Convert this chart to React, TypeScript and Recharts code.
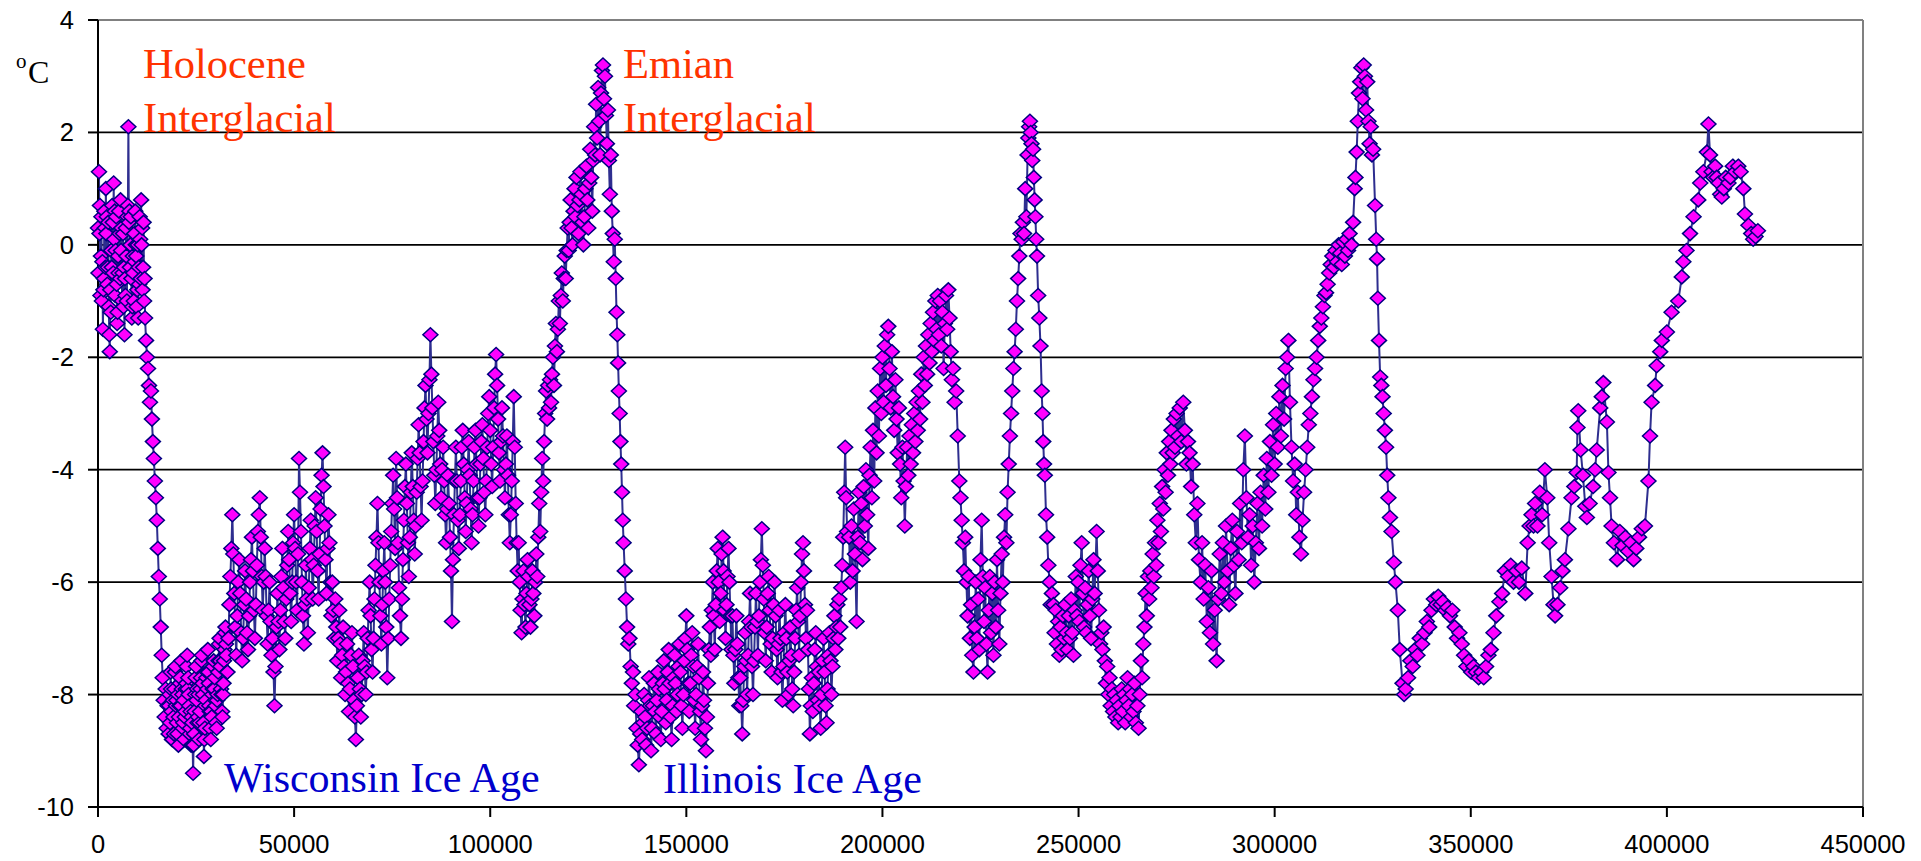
import React from "react";
import { LineChart, Line, XAxis, YAxis, CartesianGrid, ReferenceLine } from "recharts";

// Ages in thousands of years before present, temperature anomaly in °C
const holoceneSeg: [number, number][] = [
  [0,0.3],[0.125,-0.5],[0.25,1.3],[0.375,0.2],[0.5,0.7],[0.625,-0.9],[0.75,-0.2],[0.875,0.5],
  [1,-1.0],[1.125,-0.3],[1.25,-1.5],[1.375,-0.8],[1.5,-0.6],[1.625,0.6],[1.75,0.3],[1.875,-0.4],
  [2,1.0],[2.125,0.2],[2.25,0.5],[2.375,-0.7],[2.5,-0.4],[2.625,0.4],[2.75,-1.1],[2.875,-1.6],
  [3,-1.9],[3.125,-0.8],[3.25,-1.2],[3.375,-0.1],[3.5,-0.4],[3.625,0.7],[3.75,0.4],[3.875,-0.5],
  [4,1.1],[4.125,0.1],[4.25,0.6],[4.375,-0.9],[4.5,-0.1],[4.625,0.5],[4.75,-0.7],[4.875,-1.4],
  [5,-1.2],[5.125,-0.2],[5.25,-0.5],[5.375,0.6],[5.5,0.2],[5.625,-0.6],[5.75,0.8],[5.875,-0.1],
  [6,0.3],[6.125,-1.0],[6.25,-0.5],[6.375,0.2],[6.5,-1.1],[6.625,-0.4],[6.75,-1.6],[6.875,-0.6],
  [7,-0.9],[7.125,0.3],[7.25,-0.2],[7.375,-1.0],[7.5,0.5],[7.625,0.7],[7.75,2.1],[7.875,0.4],
  [8,0.6],[8.125,-0.4],[8.25,0.0],[8.375,0.5],[8.5,-0.6],[8.625,-1.3],[8.75,-1.1],[8.875,-0.2],
  [9,-0.5],[9.125,-1.0],[9.25,0.2],[9.375,-0.3],[9.5,0.6],[9.625,0.0],[9.75,-0.2],[9.875,-1.1],
  [10,-0.8],[10.125,0.0],[10.25,-1.3],[10.375,-0.4],[10.5,-0.7],[10.625,0.5],[10.75,0.1],[10.875,-0.6],
  [11,0.8],[11.125,0.0],[11.25,0.3],[11.375,-0.8],[11.5,-0.4],[11.625,0.4],[11.75,-1.0],[11.875,-0.6],
];

const deglaciationSeg: [number, number][] = [
  [12,-1.3],[12.25,-1.7],[12.5,-2.0],[12.75,-2.2],
  [13,-2.5],[13.25,-2.8],[13.5,-2.6],[13.75,-3.1],
  [14,-3.5],[14.25,-3.8],[14.5,-4.2],[14.75,-4.5],
  [15,-4.9],[15.25,-5.4],[15.5,-5.9],[15.75,-6.3],
  [16,-6.8],[16.25,-7.3],[16.5,-7.7],[16.75,-8.1],
  [17,-8.4],[17.25,-7.9],[17.5,-8.6],[17.75,-8.2],
];

const lgmSeg: [number, number][] = [
  [18,-8.7],[18.125,-8.2],[18.25,-8.0],[18.375,-8.5],[18.5,-7.6],[18.625,-7.9],[18.75,-8.3],[18.875,-8.8],
  [19,-8.8],[19.125,-8.1],[19.25,-8.4],[19.375,-8.7],[19.5,-7.9],[19.625,-7.6],[19.75,-7.5],[19.875,-8.2],
  [20,-8.1],[20.125,-8.5],[20.25,-8.7],[20.375,-8.0],[20.5,-8.9],[20.625,-8.4],[20.75,-8.2],[20.875,-7.8],
  [21,-7.7],[21.125,-8.2],[21.25,-7.4],[21.375,-7.9],[21.5,-8.0],[21.625,-8.6],[21.75,-8.5],[21.875,-8.1],
  [22,-8.8],[22.125,-8.4],[22.25,-8.3],[22.375,-7.9],[22.5,-7.8],[22.625,-7.5],[22.75,-7.3],[22.875,-7.9],
  [23,-7.7],[23.125,-8.0],[23.25,-8.2],[23.375,-8.7],[23.5,-8.6],[23.625,-8.3],[23.75,-8.9],[23.875,-8.4],
  [24,-8.5],[24.125,-8.9],[24.25,-9.4],[24.375,-8.9],[24.5,-8.7],[24.625,-8.3],[24.75,-8.0],[24.875,-7.7],
  [25,-7.5],[25.125,-8.1],[25.25,-7.9],[25.375,-8.5],[25.5,-8.4],[25.625,-8.0],[25.75,-8.8],[25.875,-8.5],
  [26,-8.3],[26.125,-7.9],[26.25,-7.7],[26.375,-7.4],[26.5,-7.3],[26.625,-7.8],[26.75,-8.0],[26.875,-8.5],
  [27,-9.1],[27.125,-8.8],[27.25,-8.6],[27.375,-8.2],[27.5,-8.1],[27.625,-7.7],[27.75,-7.6],[27.875,-7.9],
  [28,-7.2],[28.125,-7.6],[28.25,-7.8],[28.375,-8.2],[28.5,-8.3],[28.625,-8.6],[28.75,-8.8],[28.875,-8.3],
  [29,-8.4],[29.125,-8.0],[29.25,-7.9],[29.375,-7.5],[29.5,-7.4],[29.625,-7.9],[29.75,-7.7],[29.875,-8.1],
  [30,-8.2],[30.125,-8.5],[30.25,-8.6],[30.375,-8.1],[30.5,-8.0],[30.625,-7.6],[30.75,-7.4],[30.875,-7.1],
  [31,-7.0],[31.125,-7.4],[31.25,-7.5],[31.375,-7.9],[31.5,-8.0],[31.625,-8.3],[31.75,-8.4],[31.875,-8.0],
  [32,-7.8],[32.125,-7.4],[32.25,-7.2],[32.375,-6.9],[32.5,-6.8],[32.625,-7.1],[32.75,-7.3],[32.875,-7.6],
];

const stage3Seg: [number, number][] = [
  [33,-7.6],[33.25,-7.0],[33.5,-6.4],[33.75,-5.9],
  [34,-5.4],[34.25,-4.8],[34.5,-5.5],[34.75,-6.2],
  [35,-6.8],[35.25,-7.3],[35.5,-6.6],[35.75,-6.0],
  [36,-5.6],[36.25,-6.2],[36.5,-6.9],[36.75,-7.4],
  [37,-7.0],[37.25,-6.4],[37.5,-5.8],[37.75,-6.3],
  [38,-6.9],[38.25,-7.2],[38.5,-6.6],[38.75,-6.0],
  [39,-5.6],[39.25,-5.2],[39.5,-5.8],[39.75,-6.5],
  [40,-7.0],[40.25,-6.4],[40.5,-5.7],[40.75,-5.1],
  [41,-4.8],[41.25,-4.5],[41.5,-5.2],[41.75,-5.9],
  [42,-6.5],[42.25,-6.0],[42.5,-5.4],[42.75,-5.9],
  [43,-6.6],[43.25,-7.1],[43.5,-6.5],[43.75,-6.0],
  [44,-6.7],[44.25,-7.3],[44.5,-7.0],[44.75,-7.6],
  [45,-8.2],[45.25,-7.5],[45.5,-6.8],[45.75,-6.2],
  [46,-6.7],[46.25,-7.2],[46.5,-6.5],[46.75,-5.9],
  [47,-5.4],[47.25,-6.1],[47.5,-6.7],[47.75,-7.0],
  [48,-6.3],[48.25,-5.7],[48.5,-5.1],[48.75,-5.6],
  [49,-6.2],[49.25,-6.7],[49.5,-6.0],[49.75,-5.3],
  [50,-4.8],[50.25,-5.4],[50.5,-6.0],[50.75,-6.5],
  [51,-5.5],[51.25,-3.8],[51.5,-4.4],[51.75,-5.1],
  [52,-6.0],[52.25,-6.6],[52.5,-7.1],[52.75,-6.4],
  [53,-5.7],[53.25,-6.3],[53.5,-6.9],[53.75,-6.1],
  [54,-5.4],[54.25,-4.9],[54.5,-5.6],[54.75,-6.3],
  [55,-5.7],[55.25,-5.0],[55.5,-4.5],[55.75,-5.1],
  [56,-5.8],[56.25,-6.3],[56.5,-5.5],[56.75,-4.7],
  [57,-4.1],[57.25,-3.7],[57.5,-4.3],[57.75,-5.0],
  [58,-5.6],[58.25,-6.2],[58.5,-5.4],[58.75,-4.8],
  [59,-5.3],[59.25,-6.0],[59.5,-6.6],[59.75,-6.0],
];

const stage4Seg: [number, number][] = [
  [60,-6.5],[60.25,-7.0],[60.5,-6.3],[60.75,-6.8],
  [61,-7.4],[61.25,-7.0],[61.5,-6.5],[61.75,-7.1],
  [62,-7.7],[62.25,-7.3],[62.5,-6.8],[62.75,-7.5],
  [63,-8.0],[63.25,-7.6],[63.5,-7.1],[63.75,-7.8],
  [64,-8.3],[64.25,-7.9],[64.5,-7.3],[64.75,-6.9],
  [65,-7.5],[65.25,-8.1],[65.5,-8.4],[65.75,-8.8],
  [66,-8.2],[66.25,-7.7],[66.5,-7.3],[66.75,-7.9],
  [67,-8.4],[67.25,-8.0],[67.5,-7.4],[67.75,-6.9],
  [68,-7.5],[68.25,-8.0],[68.5,-7.6],[68.75,-7.0],
  [69,-6.5],[69.25,-6.0],[69.5,-6.6],[69.75,-7.2],
  [70,-7.6],[70.25,-7.0],[70.5,-6.3],[70.75,-5.7],
  [71,-5.2],[71.25,-4.6],[71.5,-5.3],[71.75,-6.0],
  [72,-6.6],[72.25,-7.1],[72.5,-6.4],[72.75,-5.8],
  [73,-5.3],[73.25,-6.0],[73.5,-6.8],[73.75,-7.7],
  [74,-7.0],[74.25,-6.3],[74.5,-5.7],[74.75,-5.1],
  [75,-4.6],[75.25,-4.1],[75.5,-4.7],[75.75,-5.4],
  [76,-3.8],[76.25,-4.5],[76.5,-5.3],[76.75,-6.1],
  [77,-6.6],[77.25,-7.0],[77.5,-6.3],[77.75,-5.6],
  [78,-4.9],[78.25,-4.3],[78.5,-3.9],[78.75,-4.6],
  [79,-5.3],[79.25,-5.9],[79.5,-5.2],[79.75,-4.4],
  [80,-3.7],[80.25,-4.3],[80.5,-4.9],[80.75,-5.5],
  [81,-5.0],[81.25,-4.4],[81.5,-3.8],[81.75,-3.2],
  [82,-3.7],[82.25,-4.3],[82.5,-4.9],[82.75,-4.2],
  [83,-3.5],[83.25,-2.9],[83.5,-2.5],[83.75,-3.1],
  [84,-3.7],[84.25,-3.0],[84.5,-2.4],[84.75,-1.6],
  [85,-2.3],[85.25,-2.9],[85.5,-3.5],[85.75,-4.1],
  [86,-4.6],[86.25,-4.0],[86.5,-3.4],[86.75,-2.8],
  [87,-3.3],[87.25,-3.9],[87.5,-4.5],[87.75,-4.0],
  [88,-3.6],[88.25,-4.2],[88.5,-4.8],[88.75,-5.3],
  [89,-4.7],[89.25,-4.1],[89.5,-4.6],[89.75,-5.2],
  [90,-5.8],[90.25,-6.7],[90.5,-5.6],[90.75,-4.8],
  [91,-4.2],[91.25,-3.6],[91.5,-4.2],[91.75,-4.9],
  [92,-5.4],[92.25,-4.8],[92.5,-4.2],[92.75,-3.6],
  [93,-3.3],[93.25,-3.9],[93.5,-4.5],[93.75,-5.1],
  [94,-4.6],[94.25,-4.0],[94.5,-3.5],[94.75,-4.1],
  [95,-4.7],[95.25,-5.3],[95.5,-4.8],[95.75,-4.2],
  [96,-3.6],[96.25,-3.3],[96.5,-3.9],[96.75,-4.5],
  [97,-5.0],[97.25,-4.5],[97.5,-3.9],[97.75,-3.5],
  [98,-3.2],[98.25,-3.8],[98.5,-4.4],[98.75,-4.8],
  [99,-4.2],[99.25,-3.6],[99.5,-3.0],[99.75,-2.7],
  [100,-3.3],[100.25,-3.9],[100.5,-4.3],[100.75,-3.6],
  [101,-2.9],[101.25,-2.3],[101.5,-1.95],[101.75,-2.5],
  [102,-3.1],[102.25,-3.7],[102.5,-4.2],[102.75,-3.5],
  [103,-2.9],[103.25,-3.4],[103.5,-4.0],[103.75,-4.5],
  [104,-3.9],[104.25,-3.4],[104.5,-4.1],[104.75,-4.8],
  [105,-5.3],[105.25,-4.8],[105.5,-4.2],[105.75,-3.5],
  [106,-2.7],[106.25,-3.6],[106.5,-4.6],[106.75,-5.3],
  [107,-5.8],[107.25,-5.3],[107.5,-6.0],[107.75,-6.5],
  [108,-6.9],[108.25,-6.3],[108.5,-5.8],[108.75,-6.4],
  [109,-6.8],[109.25,-6.2],[109.5,-5.6],[109.75,-5.9],
  [110,-6.4],[110.25,-6.8],[110.5,-6.3],[110.75,-5.8],
  [111,-6.2],[111.25,-6.6],[111.5,-6.0],[111.75,-5.5],
];

const emianSeg: [number, number][] = [
  [112,-5.9],[112.25,-5.2],[112.5,-4.6],[112.75,-5.1],
  [113,-4.4],[113.25,-3.8],[113.5,-4.2],[113.75,-3.5],
  [114,-3.0],[114.25,-2.6],[114.5,-3.1],[114.75,-2.5],
  [115,-2.9],[115.25,-2.4],[115.5,-2.8],[115.75,-2.3],
  [116,-2.0],[116.25,-2.5],[116.5,-1.8],[116.75,-1.4],
  [117,-1.9],[117.25,-1.5],[117.5,-1.0],[117.75,-1.4],
  [118,-0.9],[118.25,-0.5],[118.5,-1.0],[118.75,-0.6],
  [119,-0.2],[119.25,-0.6],[119.5,-0.1],[119.75,0.3],
  [120,-0.1],[120.25,0.4],[120.5,0.8],[120.75,0.3],
  [121,0.0],[121.25,0.6],[121.5,1.0],[121.75,0.5],
  [122,1.2],[122.25,0.7],[122.5,0.2],[122.75,0.8],
  [123,1.3],[123.25,0.9],[123.5,0.4],[123.75,0.0],
  [124,0.5],[124.25,1.0],[124.5,1.4],[124.75,0.8],
  [125,0.3],[125.25,1.1],[125.5,1.7],[125.75,1.2],
  [126,0.6],[126.25,1.5],[126.5,2.1],[126.75,1.6],
  [127,2.5],[127.25,1.9],[127.5,2.8],[127.75,2.2],
  [128,1.6],[128.25,2.7],[128.5,3.1],[128.75,3.2],
  [129,2.6],[129.25,3.0],[129.5,2.3],[129.75,1.8],
  [130,2.4],[130.25,1.5],[130.5,0.9],[130.75,1.6],
  [131,0.6],[131.25,0.2],[131.5,-0.3],[131.75,0.1],
  [132.0,-0.6],[132.2,-1.2],[132.4,-1.6],[132.6,-2.1],[132.8,-2.6],[133.0,-3.0],[133.2,-3.5],[133.4,-3.9],[133.6,-4.4],[133.8,-4.9],[134.0,-5.3],[134.3,-5.8],[134.6,-6.3],[134.9,-6.8],[135.2,-7.1],[135.5,-7.0],[135.8,-7.5],[136.1,-7.8],[136.4,-7.6],[136.7,-8.2],[137.0,-8.0],[137.3,-8.6],[137.6,-8.9],[137.9,-9.25],
];

const illinoisSeg: [number, number][] = [
  [138.25,-8.7],[138.5,-8.3],[138.75,-8.8],
  [139,-8.5],[139.25,-8.0],[139.5,-8.4],[139.75,-8.9],
  [140,-8.6],[140.25,-8.1],[140.5,-7.7],[140.75,-8.2],
  [141,-9.0],[141.25,-8.6],[141.5,-8.2],[141.75,-7.8],
  [142,-8.3],[142.25,-8.7],[142.5,-8.1],[142.75,-7.6],
  [143,-7.9],[143.25,-8.4],[143.5,-8.8],[143.75,-8.3],
  [144,-7.8],[144.25,-7.4],[144.5,-7.9],[144.75,-8.5],
  [145,-8.1],[145.25,-7.6],[145.5,-7.2],[145.75,-7.8],
  [146,-8.4],[146.25,-8.8],[146.5,-8.2],[146.75,-7.7],
  [147,-7.3],[147.25,-7.8],[147.5,-8.3],[147.75,-8.0],
  [148,-7.5],[148.25,-7.1],[148.5,-7.6],[148.75,-8.2],
  [149,-8.6],[149.25,-8.0],[149.5,-7.4],[149.75,-7.0],
  [150,-6.6],[150.25,-7.2],[150.5,-7.8],[150.75,-8.3],
  [151,-7.8],[151.25,-7.3],[151.5,-6.9],[151.75,-7.5],
  [152,-8.1],[152.25,-8.6],[152.5,-8.0],[152.75,-7.5],
  [153,-7.1],[153.25,-7.7],[153.5,-8.3],[153.75,-8.8],
  [154,-8.2],[154.25,-7.6],[154.5,-8.1],[154.75,-8.6],
  [155,-9.0],[155.25,-8.4],[155.5,-7.8],[155.75,-7.2],
  [156,-6.8],[156.25,-7.3],[156.5,-6.5],[156.75,-6.0],
  [157,-6.6],[157.25,-7.2],[157.5,-6.4],[157.75,-5.8],
  [158,-5.4],[158.25,-6.0],[158.5,-6.7],[158.75,-6.2],
  [159,-5.5],[159.25,-5.2],[159.5,-5.8],[159.75,-6.5],
  [160,-7.0],[160.25,-6.4],[160.5,-5.9],[160.75,-5.4],
  [161,-6.0],[161.25,-6.6],[161.5,-7.2],[161.75,-6.6],
  [162,-7.3],[162.25,-7.8],[162.5,-7.2],[162.75,-6.6],
  [163,-7.1],[163.25,-7.7],[163.5,-8.2],[163.75,-7.7],
  [164,-8.2],[164.25,-8.7],[164.5,-8.1],[164.75,-7.5],
  [165,-6.9],[165.25,-7.4],[165.5,-8.0],[165.75,-7.3],
  [166,-6.7],[166.25,-6.2],[166.5,-6.8],[166.75,-7.5],
  [167,-8.0],[167.25,-7.4],[167.5,-6.8],[167.75,-6.2],
  [168,-6.7],[168.25,-7.3],[168.5,-6.6],[168.75,-6.0],
  [169,-5.6],[169.25,-5.05],[169.5,-5.7],[169.75,-6.3],
  [170,-6.9],[170.25,-7.4],[170.5,-6.8],[170.75,-6.2],
  [171,-5.9],[171.25,-6.5],[171.5,-7.1],[171.75,-7.6],
  [172,-7.0],[172.25,-6.4],[172.5,-6.0],[172.75,-6.6],
  [173,-7.2],[173.25,-7.7],[173.5,-7.1],[173.75,-6.5],
  [174,-7.0],[174.25,-7.6],[174.5,-8.1],[174.75,-7.5],
  [175,-6.9],[175.25,-6.4],[175.5,-7.0],[175.75,-7.6],
  [176,-8.0],[176.25,-7.4],[176.5,-6.8],[176.75,-7.3],
  [177,-7.9],[177.25,-8.2],[177.5,-7.6],[177.75,-7.0],
  [178,-6.5],[178.25,-6.1],[178.5,-6.7],[178.75,-7.3],
  [179,-6.6],[179.25,-6.0],[179.5,-5.5],[179.75,-5.3],
  [180,-5.8],[180.25,-6.4],[180.5,-7.0],[180.75,-6.5],
  [181,-7.2],[181.25,-7.9],[181.5,-8.7],[181.75,-8.2],
  [182,-7.7],[182.25,-8.3],[182.5,-7.8],[182.75,-7.2],
  [183,-6.9],[183.25,-7.5],[183.5,-8.1],[183.75,-7.6],
  [184,-8.2],[184.25,-8.6],[184.5,-8.0],[184.75,-7.4],
  [185,-7.0],[185.25,-7.6],[185.5,-8.2],[185.75,-8.5],
  [186,-7.9],[186.25,-7.3],[186.5,-6.9],[186.75,-7.4],
  [187,-8.0],[187.25,-7.5],[187.5,-7.0],[187.75,-6.6],
  [188,-7.2],[188.25,-6.8],[188.5,-6.4],[188.75,-7.0],
  [189,-6.3],[189.25,-6.8],[189.5,-6.1],[189.75,-5.7],
  [190,-5.2],[190.25,-4.4],[190.5,-3.6],[190.75,-4.5],
  [191,-5.1],
];

const stage7Seg: [number, number][] = [
  [191.5,-5.2],[191.8,-6.0],[192.1,-5.0],[192.4,-5.8],[192.7,-4.7],[193.0,-5.5],[193.4,-6.7],[193.7,-5.2],[194.0,-4.4],[194.3,-5.3],[194.6,-4.6],[194.9,-5.6],[195.2,-4.3],[195.5,-5.0],[195.8,-4.0],[196.1,-4.8],[196.4,-5.4],[196.7,-4.1],[197.0,-3.6],[197.3,-4.5],[197.6,-3.3],[197.9,-4.2],[198.2,-2.9],[198.5,-3.7],[198.8,-2.6],[199.1,-3.4],[199.4,-2.2],[199.7,-3.0],[200.0,-2.0],[200.3,-2.8],[200.6,-1.8],[200.9,-2.5],[201.2,-1.6],[201.5,-1.45],[201.8,-2.2],[202.1,-2.9],[202.4,-1.9],[202.7,-2.7],[203.0,-3.3],[203.3,-2.4],[203.6,-3.1],[203.9,-3.7],[204.2,-2.9],[204.5,-3.9],[204.8,-4.5],[205.1,-3.6],[205.4,-4.2],[205.7,-5.0],
  [206.0,-4.3],[206.3,-3.6],[206.6,-4.1],[206.9,-3.4],[207.2,-3.9],[207.5,-3.2],[207.8,-3.7],[208.1,-3.0],[208.4,-3.5],[208.7,-2.8],[209.0,-3.3],[209.3,-2.6],[209.6,-3.1],[209.9,-2.3],[210.2,-2.8],[210.5,-2.0],[210.8,-2.5],[211.1,-1.8],[211.4,-2.3],[211.7,-1.6],[212.0,-2.1],[212.3,-1.4],[212.6,-1.9],[212.9,-1.2],[213.2,-1.7],[213.5,-1.0],[213.8,-1.5],[214.1,-0.9],[214.4,-1.6],[214.7,-1.0],[215.0,-1.8],[215.3,-1.2],[215.6,-2.2],[215.9,-1.4],[216.2,-0.9],[216.5,-1.5],[216.8,-0.8],[217.1,-1.3],[217.4,-1.9],[217.7,-2.4],[218.0,-2.2],[218.4,-2.8],[218.8,-2.6],[219.2,-3.4],[219.6,-4.2],[219.9,-4.5],[220.2,-4.9],[220.5,-5.3],[220.8,-5.8],[221.1,-5.2],[221.4,-6.0],[221.7,-6.6],[222.0,-5.9],[222.3,-7.0],[222.6,-6.4],[222.9,-7.3],[223.2,-7.6],[223.5,-6.8],[223.8,-6.0],[224.1,-7.0],[224.4,-6.3],[224.7,-7.2],[225.0,-5.6],[225.3,-4.9],[225.6,-5.9],[225.9,-6.7],[226.2,-6.1],[226.5,-7.1],[226.8,-7.6],[227.1,-6.5],[227.4,-5.9],[227.7,-6.9],[228.0,-6.2],[228.3,-7.3],[228.6,-6.0],[228.9,-6.8],
  [229.2,-5.6],[229.5,-6.5],[229.8,-7.1],[230.1,-6.2],[230.4,-5.5],[230.7,-6.0],[231.0,-5.2],[231.3,-4.8],[231.6,-5.3],[231.9,-4.4],[232.2,-3.9],[232.5,-3.4],[232.8,-3.0],[233.1,-2.6],[233.4,-2.2],[233.7,-1.9],[234.0,-1.5],[234.3,-1.0],[234.6,-0.6],[234.9,-0.2],[235.2,0.2],[235.5,0.1],[235.8,0.4],[236.1,0.2],[236.4,1.0],[236.7,0.5],[237.0,1.6],[237.2,1.9],[237.4,2.1],[237.6,2.2],[237.8,2.0],[238.0,1.8],[238.2,1.5],[238.4,1.7],[238.6,1.2],[238.8,0.8],[239.0,0.5],[239.2,0.1],[239.4,-0.2],[239.7,-0.9],[240.0,-1.3],[240.3,-1.8],[240.6,-2.6],[240.8,-3.0],[241.0,-3.5],[241.2,-3.9],[241.4,-4.1],[241.7,-4.8],[242.0,-5.2],[242.3,-5.7],[242.6,-6.0],[242.9,-6.4],[243.2,-6.2],
];

const stage8Seg: [number, number][] = [
  [243.6,-6.4],[243.9,-6.9],[244.2,-6.5],[244.5,-7.1],[244.8,-6.7],[245.1,-7.3],[245.4,-6.8],[245.7,-7.2],[246.0,-6.6],[246.3,-7.0],[246.6,-6.4],[246.9,-6.9],[247.2,-7.2],[247.5,-6.6],[247.8,-7.0],[248.1,-6.3],[248.4,-6.9],[248.7,-7.3],[249.0,-6.5],[249.3,-5.9],[249.6,-6.6],[249.9,-6.0],[250.2,-6.7],[250.5,-5.7],[250.8,-5.3],[251.1,-6.2],[251.4,-6.8],[251.7,-6.1],[252.0,-6.9],[252.3,-6.4],[252.6,-5.8],[252.9,-6.6],[253.2,-7.0],[253.5,-6.3],[253.8,-5.6],[254.1,-6.2],[254.6,-5.1],[254.9,-5.8],[255.2,-6.5],[255.5,-7.1],
  [255.8,-6.9],[256.1,-7.2],[256.4,-6.8],[256.7,-7.4],[257.0,-7.8],[257.3,-7.5],[257.6,-8.0],[257.9,-7.7],[258.2,-8.2],[258.5,-7.9],[258.8,-8.3],[259.1,-8.0],[259.4,-8.4],[259.7,-8.1],[260.1,-8.5],[260.4,-8.2],[260.7,-8.4],[261.0,-7.9],[261.3,-8.3],[261.6,-8.0],[261.9,-8.5],[262.2,-8.1],[262.5,-7.7],[262.8,-8.2],[263.1,-7.9],[263.4,-8.4],[263.7,-8.0],[264.0,-8.3],[264.3,-7.8],[264.6,-8.5],[265.0,-8.2],[265.3,-8.6],[265.6,-8.0],[265.9,-7.4],[266.2,-7.7],[266.5,-7.1],[266.8,-6.8],[267.1,-6.2],[267.4,-6.6],[267.7,-5.9],[268.0,-6.3],[268.3,-5.8],[268.6,-6.1],[268.9,-5.5],[269.2,-5.9],[269.5,-5.3],[269.8,-5.7],[270.1,-4.9],[270.4,-5.3],[270.7,-4.6],[271.0,-5.1],[271.3,-4.3],[271.6,-4.7],[271.9,-4.0],[272.2,-4.4],[272.5,-3.7],[272.8,-4.1],[273.1,-3.5],[273.4,-3.9],[273.7,-3.3],[274.0,-3.7],[274.3,-3.1],[274.6,-3.6],[275.0,-3.0],[275.4,-3.4],[275.8,-2.9],[276.2,-3.5],[276.7,-2.8],[277.1,-3.3],[277.5,-3.9],[277.9,-3.5],
];

const stage9Seg: [number, number][] = [
  [278.3,-3.7],[278.7,-4.3],[279.1,-3.9],[279.5,-4.8],[279.9,-5.3],[280.3,-4.6],[280.7,-5.6],[281.1,-6.0],[281.5,-5.3],[281.9,-6.3],[282.3,-5.7],[282.7,-6.7],[283.1,-6.1],[283.5,-6.9],[283.9,-5.8],[284.3,-7.1],[284.7,-6.5],[285.2,-7.4],[285.6,-6.3],[286.0,-5.5],[286.4,-6.2],[286.8,-5.3],[287.2,-6.0],[287.6,-5.0],[288.0,-5.8],[288.4,-6.4],[288.8,-5.4],[289.2,-4.9],[289.6,-5.7],[290.0,-6.2],[290.4,-5.1],[290.8,-5.6],[291.2,-4.6],[291.6,-5.3],[292.0,-4.0],[292.4,-3.4],[292.8,-4.5],[293.2,-5.2],[293.6,-4.8],[294.0,-5.7],[294.4,-5.0],[294.8,-6.0],[295.2,-5.3],[295.6,-4.6],[296.0,-5.4],[296.4,-4.4],[296.8,-5.0],[297.2,-4.1],[297.6,-4.7],[298.0,-3.8],[298.4,-4.4],[298.8,-3.5],[299.2,-4.1],[299.6,-3.2],[300.0,-3.9],[300.4,-3.0],[300.8,-3.6],[301.2,-2.7],[301.6,-3.4],[302.0,-2.5],[302.4,-3.1],[302.8,-2.2],[303.2,-2.0],[303.5,-1.7],[303.9,-2.8],[304.3,-3.6],[304.7,-4.2],[305.1,-3.9],[305.5,-4.8],[305.9,-4.4],[306.3,-5.2],[306.7,-5.5],[307.1,-4.9],[307.5,-4.4],[307.9,-4.0],[308.3,-3.6],[308.7,-3.2],[309.1,-3.0],[309.5,-2.7],[309.9,-2.4],[310.3,-2.2],[310.7,-2.0],[311.1,-1.7],[311.5,-1.45],[311.9,-1.3],[312.3,-1.1],[312.7,-0.9],[313.1,-0.85],[313.5,-0.7],[313.9,-0.5],[314.3,-0.35],[314.7,-0.2],[315.1,-0.4],[315.5,-0.1],[315.9,-0.3],[316.3,0.0],[316.7,-0.15],[317.1,-0.35],[317.5,0.05],[317.9,-0.2],[318.3,0.1],[318.7,-0.1],[319.1,0.2],[319.6,0.0],[320.0,0.4],[320.4,1.0],[320.6,1.2],[320.9,1.65],[321.2,2.2],[321.5,2.7],[321.8,2.9],[322.1,3.15],[322.4,2.6],[322.7,3.2],[323.0,3.0],[323.3,2.4],[323.6,2.9],[323.9,2.2],[324.2,1.8],[324.5,2.1],[324.8,1.6],[325.1,1.7],
  [325.6,0.7],[325.9,0.1],[326.1,-0.25],[326.3,-0.95],[326.6,-1.7],[326.9,-2.35],[327.2,-2.5],[327.5,-2.7],[327.8,-3.0],[328.1,-3.3],[328.4,-3.6],[328.7,-4.1],[329.0,-4.5],[329.4,-4.85],[329.8,-5.1],[330.4,-5.65],[330.8,-6.0],[331.4,-6.5],[331.9,-7.2],[332.6,-7.8],[333.0,-8.0],[333.4,-7.9],
];

const stage10Seg: [number, number][] = [
  [334.0,-7.7],[334.6,-7.4],[335.2,-7.5],[335.8,-7.2],[336.4,-7.3],[337.0,-7.0],[337.6,-7.1],[338.2,-6.9],[338.8,-6.7],[339.4,-6.8],[340.0,-6.5],[340.6,-6.3],[341.2,-6.4],[341.7,-6.25],[342.3,-6.4],[342.9,-6.35],[343.5,-6.5],[344.1,-6.45],[344.7,-6.6],[345.3,-6.5],[345.9,-6.8],[346.5,-7.0],[347.1,-6.9],[347.7,-7.1],[348.3,-7.3],[348.9,-7.5],[349.5,-7.4],[350.1,-7.6],[350.7,-7.5],[351.3,-7.6],[352.0,-7.7],[352.7,-7.6],[353.3,-7.7],[353.9,-7.5],[354.5,-7.3],[355.1,-7.2],[355.8,-6.9],[356.5,-6.6],[357.3,-6.35],[358.0,-6.2],[358.7,-5.8],[359.5,-5.9],[360.2,-5.7],[360.9,-6.0],[361.6,-5.8],[362.3,-6.0],[363.0,-5.75],[363.9,-6.2],[364.5,-5.3],[365.0,-5.0],[365.5,-4.8],[366.0,-5.0],
  [366.4,-4.6],[367.0,-5.0],[367.6,-4.4],[368.2,-4.8],[368.9,-4.0],[369.5,-4.5],[370.0,-5.3],[370.6,-5.9],[371.1,-6.4],[371.5,-6.6],[372.1,-6.4],[372.8,-6.1],[373.4,-5.8],[374.0,-5.6],[374.9,-5.05],[375.7,-4.5],[376.4,-4.3],[377.0,-4.05],[377.2,-3.25],[377.4,-2.95],[378.0,-3.65],[378.6,-4.1],[379.2,-4.65],[379.6,-4.85],[380.3,-4.6],[381.2,-4.3],[381.7,-4.0],[382.1,-3.65],[383.0,-2.9],[383.4,-2.7],[383.8,-2.45],[384.7,-3.15],[385.1,-4.05],[385.5,-4.5],[385.9,-5.0],[386.5,-5.3],[387.3,-5.6],[388.0,-5.1],[388.7,-5.35],[389.4,-5.2],[390.1,-5.45],[390.8,-5.3],[391.5,-5.6],[392.2,-5.4],[392.9,-5.2],[393.6,-5.05],[394.4,-5.0],
  [395.3,-4.2],[395.7,-3.4],[396.1,-2.8],[397.0,-2.5],[397.4,-2.15],[398.3,-1.9],[398.7,-1.7],[400.0,-1.55],[401.2,-1.2],[402.9,-1.0],[403.8,-0.57],[404.2,-0.3],[405.0,-0.1],[405.9,0.2],[406.8,0.5],[408.0,0.8],[408.5,1.1],[409.3,1.3],[410.2,1.65],[410.6,2.15],[411.0,1.6],[411.4,1.3],[411.8,1.2],[412.3,1.4],[412.7,1.2],[413.2,1.1],[413.6,0.9],[414.0,0.85],[414.5,1.0],[415.0,1.2],[415.7,1.1],[416.2,1.2],[416.8,1.4],[417.4,1.3],[418.2,1.4],[418.8,1.3],[419.5,1.0],[419.9,0.55],[420.8,0.35],[421.5,0.2],[422.0,0.1],[422.6,0.15],[423.2,0.25],
];

const xTicks = [0, 50000, 100000, 150000, 200000, 250000, 300000, 350000, 400000, 450000];
const yTicks = [-10, -8, -6, -4, -2, 0, 2, 4];
const gridValues = [-8, -6, -4, -2, 0, 2];

const vostok = [
  ...holoceneSeg,
  ...deglaciationSeg,
  ...lgmSeg,
  ...stage3Seg,
  ...stage4Seg,
  ...emianSeg,
  ...illinoisSeg,
  ...stage7Seg,
  ...stage8Seg,
  ...stage9Seg,
  ...stage10Seg,
].map(([kyr, t]) => ({ age: Math.round(kyr * 1000), temp: t }));

const renderDiamond = (props: any) => {
  const { cx, cy, index } = props;
  if (cx == null || cy == null || isNaN(cx) || isNaN(cy)) return <g key={`d-${index}`} />;
  const w = 7.5;
  const h = 7;
  return (
    <polygon
      key={`d-${index}`}
      points={`${cx},${cy - h} ${cx + w},${cy} ${cx},${cy + h} ${cx - w},${cy}`}
      fill="#FF00FF"
      stroke="#000080"
      strokeWidth={1.5}
    />
  );
};

const tickStyle = { fontSize: 25.5, fill: "#000", fontFamily: "'Liberation Sans', Arial, sans-serif" };
const serif = "'Liberation Serif', 'Times New Roman', serif";

export default function App() {
  return (
    <div style={{ position: "relative", width: 1913, height: 861, marginTop: -8, marginLeft: -8, marginBottom: -8 }}>
      <LineChart width={1913} height={861} data={vostok} margin={{ top: 20, right: 50, bottom: 0, left: 8 }}>
        <CartesianGrid horizontal={true} vertical={false} horizontalValues={gridValues} stroke="#000" strokeWidth={1.8} />
        <XAxis
          type="number"
          dataKey="age"
          domain={[0, 450000]}
          ticks={xTicks}
          interval={0}
          height={54}
          tickSize={10}
          tickMargin={18}
          tick={tickStyle}
          axisLine={{ stroke: "#000", strokeWidth: 2 }}
          tickLine={{ stroke: "#000", strokeWidth: 2 }}
        />
        <YAxis
          type="number"
          domain={[-10, 4]}
          ticks={yTicks}
          interval={0}
          width={90}
          tickSize={10}
          tickMargin={14}
          tick={tickStyle}
          axisLine={{ stroke: "#000", strokeWidth: 2 }}
          tickLine={{ stroke: "#000", strokeWidth: 2 }}
        />
        <ReferenceLine y={4} stroke="#808080" strokeWidth={2} />
        <ReferenceLine x={450000} stroke="#808080" strokeWidth={2} />
        <Line
          type="linear"
          dataKey="temp"
          stroke="#2E2E8F"
          strokeWidth={2}
          dot={renderDiamond}
          activeDot={false}
          isAnimationActive={false}
        />
      </LineChart>
      <svg width={1913} height={861} style={{ position: "absolute", left: 0, top: 0, pointerEvents: "none" }}>
        <text x={16} y={68} fontFamily={serif} fontSize={21} fill="#000">o</text>
        <text x={28} y={83} fontFamily={serif} fontSize={32} fill="#000">C</text>
        <text x={143} y={78} fontFamily={serif} fontSize={42.5} fill="#FF3300">Holocene</text>
        <text x={143} y={131.5} fontFamily={serif} fontSize={42.5} fill="#FF3300">Interglacial</text>
        <text x={623} y={78} fontFamily={serif} fontSize={42.5} fill="#FF3300">Emian</text>
        <text x={623} y={131.5} fontFamily={serif} fontSize={42.5} fill="#FF3300">Interglacial</text>
        <text x={224} y={792} fontFamily={serif} fontSize={42} fill="#0000CC">Wisconsin Ice Age</text>
        <text x={663} y={793} fontFamily={serif} fontSize={42} fill="#0000CC">Illinois Ice Age</text>
      </svg>
    </div>
  );
}
